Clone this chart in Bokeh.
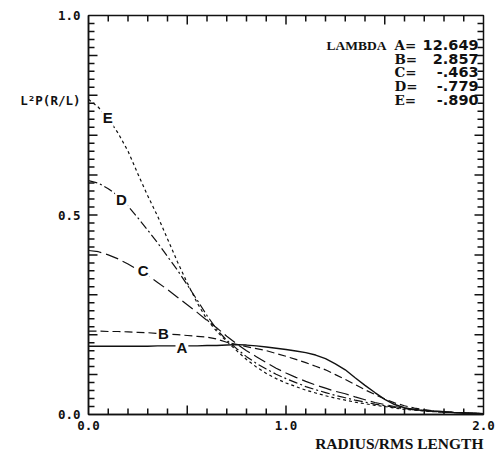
from bokeh.plotting import figure
from bokeh.models import Range1d, LinearAxis, FixedTicker, ColumnDataSource, Title
from bokeh.core.properties import value
from bokeh.embed import file_html
from bokeh.resources import INLINE

# radius / rms length
r = [0.00, 0.05, 0.10, 0.15, 0.20, 0.25, 0.30, 0.35, 0.40, 0.45,
     0.50, 0.55, 0.60, 0.65, 0.70, 0.75, 0.80, 0.85, 0.90, 0.95,
     1.00, 1.05, 1.10, 1.15, 1.20, 1.25, 1.30, 1.35, 1.40, 1.45,
     1.50, 1.55, 1.60, 1.65, 1.70, 1.75, 1.80, 1.85, 1.90, 1.95, 2.00]

# L^2 P(R/L) for each lambda
curve_a = [0.171, 0.171, 0.171, 0.171, 0.171, 0.171, 0.171, 0.172, 0.172, 0.172,
           0.172, 0.172, 0.173, 0.173, 0.174, 0.175, 0.174, 0.172, 0.169, 0.166,
           0.163, 0.159, 0.155, 0.149, 0.140, 0.127, 0.112, 0.092, 0.073, 0.055,
           0.038, 0.025, 0.017, 0.012, 0.010, 0.008, 0.007, 0.005, 0.004, 0.003, 0.002]
curve_b = [0.209, 0.209, 0.208, 0.208, 0.207, 0.206, 0.205, 0.203, 0.202, 0.200,
           0.198, 0.196, 0.194, 0.189, 0.181, 0.176, 0.170, 0.165, 0.160, 0.153,
           0.146, 0.138, 0.130, 0.121, 0.112, 0.100, 0.088, 0.075, 0.062, 0.050,
           0.039, 0.029, 0.022, 0.016, 0.012, 0.009, 0.007, 0.005, 0.004, 0.003, 0.002]
curve_c = [0.411, 0.408, 0.400, 0.390, 0.377, 0.363, 0.348, 0.331, 0.313, 0.294,
           0.275, 0.256, 0.236, 0.217, 0.196, 0.177, 0.160, 0.145, 0.130, 0.116,
           0.104, 0.093, 0.083, 0.074, 0.066, 0.058, 0.052, 0.044, 0.037, 0.030,
           0.025, 0.020, 0.016, 0.013, 0.010, 0.008, 0.006, 0.005, 0.004, 0.003, 0.002]
curve_d = [0.586, 0.580, 0.566, 0.548, 0.522, 0.493, 0.462, 0.430, 0.396, 0.362,
           0.325, 0.287, 0.248, 0.213, 0.186, 0.165, 0.145, 0.128, 0.114, 0.101,
           0.090, 0.080, 0.070, 0.062, 0.055, 0.048, 0.042, 0.036, 0.031, 0.026,
           0.022, 0.018, 0.015, 0.012, 0.010, 0.008, 0.006, 0.005, 0.004, 0.003, 0.002]
curve_e = [0.790, 0.770, 0.742, 0.705, 0.660, 0.603, 0.548, 0.497, 0.440, 0.383,
           0.330, 0.280, 0.238, 0.208, 0.183, 0.160, 0.138, 0.119, 0.103, 0.090,
           0.079, 0.070, 0.061, 0.054, 0.047, 0.041, 0.036, 0.031, 0.027, 0.023,
           0.020, 0.016, 0.013, 0.011, 0.009, 0.007, 0.006, 0.005, 0.004, 0.003, 0.002]

curve_names = ["A", "B", "C", "D", "E"]
lambdas = [12.649, 2.857, -0.463, -0.779, -0.890]
label_r = [0.473, 0.379, 0.277, 0.167, 0.097]
label_p = [0.168, 0.203, 0.360, 0.540, 0.745]

y_title = "L²P(R/L)"
y_title_at = 0.788
x_title = "RADIUS/RMS LENGTH"
x_tick_labels = {0: "0.0", 1: "1.0", 2: "2.0"}
y_tick_labels = {0: "0.0", 0.5: "0.5", 1: "1.0", y_title_at: y_title}

INK = "#111111"
X0, X1, Y0, Y1 = 0, 2, 0, 1
FRAME_W, FRAME_H = 395, 399
BORDER_L, BORDER_R, BORDER_T, BORDER_B = 88, 17, 15, 50

p = figure(width=BORDER_L + FRAME_W + BORDER_R, height=BORDER_T + FRAME_H + BORDER_B,
           output_backend="svg", toolbar_location=None,
           x_range=Range1d(X0, X1), y_range=Range1d(Y0, Y1),
           x_axis_location=None, y_axis_location=None,
           min_border_left=BORDER_L, min_border_right=BORDER_R,
           min_border_top=BORDER_T, min_border_bottom=BORDER_B)
p.grid.visible = False
p.outline_line_color = INK
p.outline_line_width = 1.5
p.background_fill_color = "white"
p.border_fill_color = "white"

# labelled axes: line and labels only, tick marks are drawn inside the frame below
for side, labels, standoff in (("below", x_tick_labels, 6), ("left", y_tick_labels, 8)):
    ax = LinearAxis(ticker=FixedTicker(ticks=list(labels.keys()), minor_ticks=[]),
                    major_label_overrides=labels,
                    axis_line_color=INK, axis_line_width=1.5,
                    major_tick_line_color=None, minor_tick_line_color=None,
                    major_tick_in=0, major_tick_out=0,
                    minor_tick_in=0, minor_tick_out=0,
                    axis_label_standoff=0,
                    major_label_text_font="DejaVu Sans Mono",
                    major_label_text_font_style="bold",
                    major_label_text_font_size="12.5px",
                    major_label_text_color=INK, major_label_standoff=standoff)
    p.add_layout(ax, side)

# x title, right aligned under the axis
p.add_layout(Title(text=x_title, align="right", text_font="Liberation Serif",
                   text_font_style="bold", text_font_size="15.5px", text_color=INK,
                   standoff=0), "below")

# inward tick marks on all four sides; each segment straddles the edge and
# the frame clips its outer half
x_major = [0.5, 1, 1.5]
x_minor = [round(0.1 * i, 2) for i in range(1, 20) if i % 5]
y_major = [round(0.1 * i, 2) for i in range(1, 10)]
y_minor = [round(0.02 * i, 2) for i in range(1, 50) if i % 5]
tick_px = {"major": 9, "minor": 6}

for kind, xs in (("major", x_major), ("minor", x_minor)):
    d = tick_px[kind] / FRAME_H * (Y1 - Y0)
    n = len(xs)
    p.segment(xs, [Y0 - d] * n, xs, [Y0 + d] * n, line_color=INK, line_width=1.5)
    p.segment(xs, [Y1 + d] * n, xs, [Y1 - d] * n, line_color=INK, line_width=1.5)
for kind, ys in (("major", y_major), ("minor", y_minor)):
    d = tick_px[kind] / FRAME_W * (X1 - X0)
    n = len(ys)
    p.segment([X0 - d] * n, ys, [X0 + d] * n, ys, line_color=INK, line_width=1.5)
    p.segment([X1 + d] * n, ys, [X1 - d] * n, ys, line_color=INK, line_width=1.5)

# the five distributions
styles = [("solid", 1.4), ("8 4", 1.2), ("13 5", 1.2), ("9 3 2 3", 1.2), ("3 3", 1.2)]
for ys, (dash, w) in zip([curve_a, curve_b, curve_c, curve_d, curve_e], styles):
    p.line(r, ys, line_color=INK, line_width=w, line_dash=dash)

# curve letters sitting on the lines
src = ColumnDataSource(dict(x=label_r, y=label_p, t=curve_names))
p.text(x="x", y="y", text="t", source=src, text_font=value("Liberation Sans"),
       text_font_style="bold", text_font_size="15px", text_color=INK,
       text_align="center", text_baseline="middle",
       background_fill_color="white", padding=1)

# lambda key in the upper right
keys = [f"{name}=" for name in curve_names]
vals = [f"{lam:.3f}".replace("-0.", "-.") for lam in lambdas]
row_y = [0.926 - 0.0343 * i for i in range(len(keys))]
p.text(x=[1.549] * len(keys), y=row_y, text=keys, text_font=value("DejaVu Serif"),
       text_font_style="bold", text_font_size="13.5px", text_color=INK,
       text_align="left", text_baseline="middle")
p.text(x=[1.975] * len(vals), y=row_y, text=vals, text_font=value("DejaVu Sans"),
       text_font_style="bold", text_font_size="14.5px", text_color=INK,
       text_align="right", text_baseline="middle")
p.text(x=[1.205], y=[0.926], text=["LAMBDA"], text_font=value("Liberation Serif"),
       text_font_style="bold", text_font_size="13.5px", text_color=INK,
       text_align="left", text_baseline="middle")

open("out.html", "w").write(file_html(p, INLINE))
